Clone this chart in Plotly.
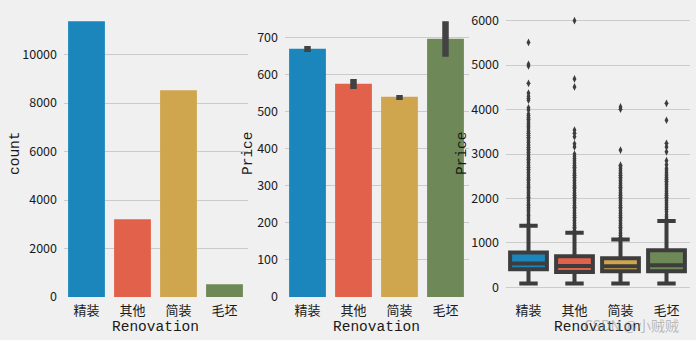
import plotly.graph_objects as go

# ---- data ----
renovation = ["精装", "其他", "简装", "毛坯"]
colors = ["#1b86bb", "#e2614a", "#cfa64e", "#6e8857"]

counts = [11375, 3205, 8528, 523]

price_mean = [671, 576, 541, 698]
price_ci_low = [662, 562, 532, 649]
price_ci_high = [678, 589, 546, 745]

box_lower = [85, 85, 85, 85]
box_q1 = [411, 347, 366, 366]
box_median = [535, 484, 477, 500]
box_q3 = [784, 702, 658, 833]
box_upper = [1384, 1229, 1077, 1496]

outliers = {
    "精装": [1400, 1430, 1465, 1510, 1540, 1585, 1620, 1650, 1695, 1730, 1765, 1800,
             1845, 1870, 1910, 1955, 1990, 2025, 2060, 2100, 2135, 2170, 2215, 2250,
             2285, 2320, 2360, 2400, 2435, 2470, 2510, 2550, 2585, 2620, 2660, 2700,
             2735, 2770, 2810, 2850, 2885, 2920, 2960, 3000, 3035, 3070, 3110, 3150,
             3185, 3220, 3260, 3300, 3345, 3380, 3420, 3465, 3500, 3540, 3585, 3620,
             3660, 3700, 3745, 3780, 3820, 3865, 3900, 3990, 4040, 4210, 4250, 4300,
             4370, 4590, 4980, 5020, 5510],
    "其他": [1245, 1280, 1320, 1355, 1390, 1430, 1470, 1505, 1540, 1580, 1620, 1655,
             1690, 1730, 1770, 1805, 1840, 1880, 1920, 1955, 1990, 2030, 2070, 2105,
             2140, 2180, 2220, 2255, 2290, 2330, 2370, 2405, 2440, 2480, 2520, 2555,
             2590, 2630, 2670, 2705, 2740, 2780, 2820, 2860, 2900, 2950, 3000, 3160,
             3230, 3390, 3470, 3540, 4510, 4690, 6000],
    "简装": [1095, 1130, 1170, 1205, 1240, 1280, 1320, 1355, 1390, 1430, 1470, 1505,
             1540, 1580, 1620, 1655, 1690, 1730, 1770, 1805, 1840, 1880, 1920, 1955,
             1990, 2030, 2070, 2105, 2140, 2180, 2220, 2255, 2290, 2330, 2370, 2405,
             2440, 2480, 2520, 2555, 2590, 2630, 2670, 2710, 2750, 3090, 4010, 4060],
    "毛坯": [1530, 1560, 1600, 1640, 1700, 1750, 1790, 1830, 1870, 1910, 1950, 1990,
             2030, 2070, 2110, 2150, 2190, 2230, 2270, 2310, 2350, 2390, 2430, 2470,
             2510, 2550, 2590, 2640, 2680, 2760, 2850, 3050, 3160, 3240, 3760, 4140],
}

count_ticks = [0, 2000, 4000, 6000, 8000, 10000]
mean_ticks = [0, 100, 200, 300, 400, 500, 600, 700]
box_ticks = [0, 1000, 2000, 3000, 4000, 5000, 6000]

# ---- styling ----
W, H = 696, 340
BG = "#f0f0f0"
GRID = "#cbcbcb"
DARK = "#3d3d3d"
TXT = "#1a1a1a"
CJK = "Noto Sans CJK SC"
MONO = "Liberation Mono, Noto Sans CJK SC"

fig = go.Figure()

# countplot
fig.add_trace(go.Bar(
    x=renovation, y=counts, marker=dict(color=colors, line=dict(width=0)),
    xaxis="x", yaxis="y", showlegend=False, hoverinfo="skip",
))

# mean price with confidence interval
fig.add_trace(go.Bar(
    x=renovation, y=price_mean, marker=dict(color=colors, line=dict(width=0)),
    error_y=dict(
        type="data", symmetric=False,
        array=[h - m for h, m in zip(price_ci_high, price_mean)],
        arrayminus=[m - l for m, l in zip(price_mean, price_ci_low)],
        color="#424242", thickness=6.5, width=0,
    ),
    xaxis="x2", yaxis="y2", showlegend=False, hoverinfo="skip",
))

# boxplots
for i, cat in enumerate(renovation):
    fig.add_trace(go.Box(
        x=[cat], q1=[box_q1[i]], median=[box_median[i]], q3=[box_q3[i]],
        lowerfence=[box_lower[i]], upperfence=[box_upper[i]],
        fillcolor=colors[i], line=dict(color=DARK, width=4),
        whiskerwidth=0.5, width=0.8, boxpoints=False,
        xaxis="x3", yaxis="y3", showlegend=False, hoverinfo="skip",
    ))
for cat in renovation:
    vals = outliers[cat]
    fig.add_trace(go.Scatter(
        x=[cat] * len(vals), y=vals, mode="markers",
        marker=dict(symbol="diamond-tall", size=5.5, color=DARK, line=dict(width=0)),
        xaxis="x3", yaxis="y3", showlegend=False, hoverinfo="skip",
    ))

ydom = [(H - 297.0) / H, (H - 7.5) / H]


def xax(x0, x1, anchor):
    return dict(
        domain=[x0 / W, x1 / W], anchor=anchor, type="category",
        categoryorder="array", categoryarray=renovation, range=[-0.5, 3.5],
        showgrid=False, zeroline=False, showline=False,
        ticks="outside", ticklen=1, tickcolor="rgba(0,0,0,0)",
        tickfont=dict(family=CJK, size=13, color=TXT), automargin=False,
    )


def yax(rng, ticks, anchor):
    return dict(
        domain=ydom, anchor=anchor, range=rng,
        tickvals=ticks, ticktext=[str(t) for t in ticks],
        showgrid=True, gridcolor=GRID, gridwidth=1.2,
        zeroline=False, showline=False,
        ticks="outside", ticklen=3, tickcolor="rgba(0,0,0,0)",
        tickfont=dict(family=CJK, size=12.5, color=TXT), automargin=False,
    )


fig.update_layout(
    width=W, height=H, autosize=False,
    margin=dict(l=0, r=0, t=0, b=0),
    paper_bgcolor=BG, plot_bgcolor=BG,
    bargap=0.2, boxmode="overlay",
    xaxis=xax(63.5, 247.5, "y"),
    xaxis2=xax(284.5, 468.5, "y2"),
    xaxis3=xax(505.5, 689.5, "y3"),
    yaxis=yax([0, 11944], count_ticks, "x"),
    yaxis2=yax([0, 782.25], mean_ticks, "x2"),
    yaxis3=yax([-216, 6296], box_ticks, "x3"),
)

# axis titles
titles = [
    ("Renovation", 155.5, 326.5, 0),
    ("Renovation", 376.5, 326.5, 0),
    ("Renovation", 597.5, 326.5, 0),
    ("count", 15, 153, -90),
    ("Price", 248, 153, -90),
    ("Price", 462, 153, -90),
]
for text, px, py, ang in titles:
    fig.add_annotation(
        text=text, x=px / W, y=1 - py / H, xref="paper", yref="paper",
        xanchor="center", yanchor="middle", showarrow=False, textangle=ang,
        font=dict(family=MONO, size=14.5, color=TXT),
    )

fig.add_annotation(
    text="CSDN @小贼贼", x=631 / W, y=1 - 325 / H, xref="paper", yref="paper",
    xanchor="center", yanchor="middle", showarrow=False,
    font=dict(family=CJK, size=14, color="rgba(150,150,150,0.6)"),
)

fig.write_html("out.html")
